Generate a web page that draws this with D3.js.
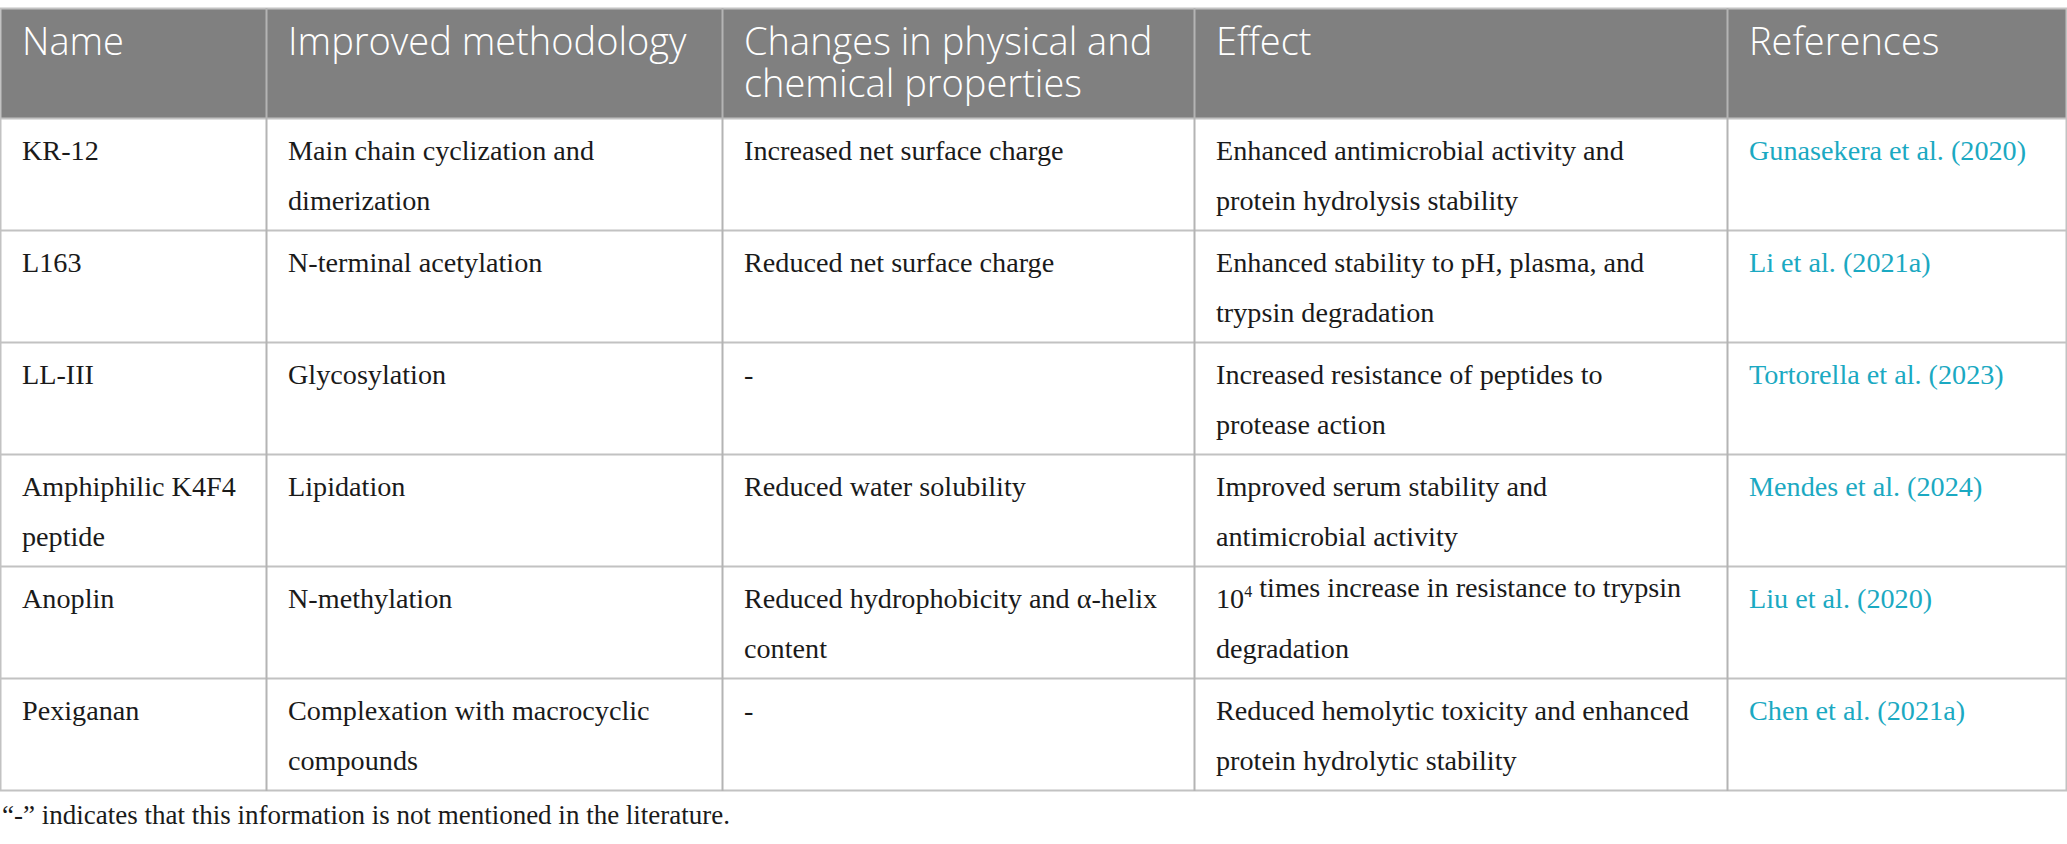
<!DOCTYPE html>
<html>
<head>
<meta charset="utf-8">
<script src="https://cdn.jsdelivr.net/npm/d3@7"></script>
<style>
  html, body { margin: 0; padding: 0; background: #fff; }
  svg { display: block; }
</style>
</head>
<body>
<div id="chart"></div>
<script>
// Table content
const headers = [["Name"], ["Improved methodology"], ["Changes in physical and", "chemical properties"], ["Effect"], ["References"]];
const names = [["KR-12"], ["L163"], ["LL-III"], ["Amphiphilic K4F4", "peptide"], ["Anoplin"], ["Pexiganan"]];
const methods = [
  ["Main chain cyclization and", "dimerization"],
  ["N-terminal acetylation"],
  ["Glycosylation"],
  ["Lipidation"],
  ["N-methylation"],
  ["Complexation with macrocyclic", "compounds"]
];
const changes = [
  ["Increased net surface charge"],
  ["Reduced net surface charge"],
  ["-"],
  ["Reduced water solubility"],
  ["Reduced hydrophobicity and α-helix", "content"],
  ["-"]
];
const effects = [
  ["Enhanced antimicrobial activity and", "protein hydrolysis stability"],
  ["Enhanced stability to pH, plasma, and", "trypsin degradation"],
  ["Increased resistance of peptides to", "protease action"],
  ["Improved serum stability and", "antimicrobial activity"],
  ["10^4 times increase in resistance to trypsin", "degradation"],
  ["Reduced hemolytic toxicity and enhanced", "protein hydrolytic stability"]
];
const references = [["Gunasekera et al. (2020)"], ["Li et al. (2021a)"], ["Tortorella et al. (2023)"], ["Mendes et al. (2024)"], ["Liu et al. (2020)"], ["Chen et al. (2021a)"]];
const footnote = "\u201C-\u201D indicates that this information is not mentioned in the literature.";

// Layout
const W = 2067, H = 844;
const colWidths = [266, 456, 472, 533, 340];
const tableTop = 8, headerBottom = 118, tableBottom = 790;
const padX = 22;
const lineGap = 50;

const columns = [names, methods, changes, effects, references];
const rowIdx = d3.range(names.length);

const colEdges = colWidths.reduce((acc, w) => { acc.push(acc[acc.length - 1] + w); return acc; }, [0]);
colEdges[colEdges.length - 1] = W - 1;

const y = d3.scaleBand()
  .domain(rowIdx)
  .range([headerBottom, tableBottom]);

const svg = d3.select("#chart")
  .append("svg")
  .attr("width", W)
  .attr("height", H);

// Header background
svg.append("rect")
  .attr("x", 0)
  .attr("y", tableTop)
  .attr("width", W)
  .attr("height", headerBottom - tableTop)
  .attr("fill", "#808080");

// Horizontal rules
const hLines = [tableTop, headerBottom].concat(rowIdx.map(i => y(i) + y.bandwidth()));
svg.selectAll(".hline")
  .data(hLines)
  .join("line")
  .attr("class", "hline")
  .attr("x1", 0)
  .attr("x2", W)
  .attr("y1", d => d + 0.5)
  .attr("y2", d => d + 0.5)
  .attr("stroke", "#c2c2c2")
  .attr("stroke-width", 2);

// Vertical rules
svg.selectAll(".vline")
  .data(colEdges)
  .join("line")
  .attr("class", "vline")
  .attr("x1", d => d + 0.5)
  .attr("x2", d => d + 0.5)
  .attr("y1", tableTop)
  .attr("y2", tableBottom + 1)
  .attr("stroke", d => d === 0 || d === W - 1 ? "#c2c2c2" : "#b4b4b4")
  .attr("stroke-width", 2);

// Header text, one element per line
const headLines = [];
headers.forEach((lines, c) => lines.forEach((txt, k) => headLines.push({ c, k, txt })));

svg.selectAll(".head")
  .data(headLines)
  .join("text")
  .attr("class", "head")
  .attr("x", d => colEdges[d.c] + padX)
  .attr("y", d => tableTop + 47 + d.k * 42)
  .attr("font-family", "'Open Sans', sans-serif")
  .attr("font-weight", 300)
  .attr("font-size", 38)
  .attr("fill", "#fff")
  .text(d => d.txt);

// Body cells
const cells = [];
columns.forEach((col, c) => {
  col.forEach((lines, r) => cells.push({ c, r, lines }));
});

function writeLine(sel, str) {
  // "^n" marks a superscript
  const parts = str.split(/\^(\d+)/);
  parts.forEach((p, k) => {
    if (!p) return;
    if (k % 2 === 1) {
      sel.append("tspan").attr("font-size", 16).attr("dy", -11).text(p);
      sel.append("tspan").attr("dy", 11).text("");
    } else {
      sel.append("tspan").text(p);
    }
  });
}

svg.selectAll(".cell")
  .data(cells)
  .join("text")
  .attr("class", "cell")
  .attr("font-family", "'Liberation Serif', 'Times New Roman', serif")
  .attr("font-size", 28.2)
  .attr("fill", d => d.c === 4 ? "#1ba9c2" : "#1a1a1a")
  .each(function (d) {
    const t = d3.select(this);
    d.lines.forEach((line, k) => {
      const ln = t.append("tspan")
        .attr("x", colEdges[d.c] + padX)
        .attr("y", y(d.r) + 42 + k * lineGap);
      writeLine(ln, line);
    });
  });

// Footnote
svg.append("text")
  .attr("x", 2)
  .attr("y", 824)
  .attr("font-family", "'Liberation Serif', 'Times New Roman', serif")
  .attr("font-size", 27)
  .attr("fill", "#1a1a1a")
  .text(footnote);
</script>
</body>
</html>
